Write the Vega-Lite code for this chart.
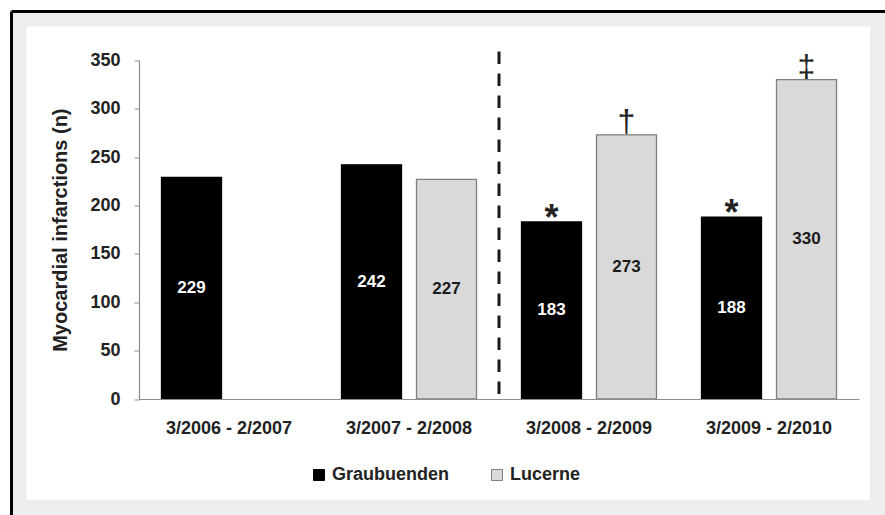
{
  "$schema": "https://vega.github.io/schema/vega-lite/v6.json",
  "width": 873.5,
  "height": 503.5,
  "autosize": {"type": "none"},
  "padding": {"left": 11.5, "top": 11.5, "right": 0, "bottom": 0},
  "background": "white",
  "config": {
    "font": "Liberation Sans",
    "view": {"stroke": null, "fill": "white"},
    "axis": {
      "grid": false,
      "domainColor": "#8c8c8c",
      "domainWidth": 1.2,
      "tickColor": "#8c8c8c",
      "labelFont": "Liberation Sans",
      "labelFontSize": 18,
      "labelFontWeight": "bold",
      "labelColor": "#222222",
      "titleFont": "Liberation Sans",
      "titleFontSize": 20,
      "titleFontWeight": "bold",
      "titleColor": "#222222"
    },
    "legend": {
      "labelFont": "Liberation Sans",
      "labelFontSize": 18,
      "labelFontWeight": "bold",
      "labelColor": "#222222"
    }
  },
  "datasets": {
    "counts": [
      {"period": "3/2006 - 2/2007", "series": "Graubuenden", "value": 229},
      {"period": "3/2007 - 2/2008", "series": "Graubuenden", "value": 242},
      {"period": "3/2007 - 2/2008", "series": "Lucerne", "value": 227},
      {"period": "3/2008 - 2/2009", "series": "Graubuenden", "value": 183, "sig": "*"},
      {"period": "3/2008 - 2/2009", "series": "Lucerne", "value": 273, "sig": "†"},
      {"period": "3/2009 - 2/2010", "series": "Graubuenden", "value": 188, "sig": "*"},
      {"period": "3/2009 - 2/2010", "series": "Lucerne", "value": 330, "sig": "‡"}
    ]
  },
  "layer": [
    {
      "data": {"values": [{"panel": "figure"}]},
      "mark": {"type": "rect", "fill": null, "stroke": "#eeeeee", "strokeWidth": 30, "clip": true},
      "encoding": {}
    },
    {
      "data": {"values": [{"panel": "figure"}]},
      "mark": {"type": "rect", "fill": null, "stroke": "#000000", "strokeWidth": 3, "strokeDash": [873.5, 1377, 503.5, 0]},
      "encoding": {}
    },
    {
      "layer": [
        {
          "data": {"name": "counts"},
          "mark": {"type": "bar", "strokeWidth": 1.3},
          "encoding": {
            "x": {
              "field": "period",
              "type": "nominal",
              "scale": {"range": [127.5, 847.5], "paddingInner": 0, "paddingOuter": 0},
              "axis": {"title": null, "offset": -116, "ticks": false, "tickSize": 0, "labelPadding": 20, "labelAngle": 0, "zindex": 1}
            },
            "xOffset": {
              "field": "series",
              "type": "nominal",
              "scale": {"domain": ["Graubuenden", "Lucerne"], "paddingInner": 0.2, "paddingOuter": 0.3}
            },
            "y": {
              "field": "value",
              "type": "quantitative",
              "scale": {"domain": [0, 350], "range": [387.5, 48.8], "nice": false},
              "axis": {
                "title": "Myocardial infarctions (n)",
                "offset": -127.5,
                "values": [0, 50, 100, 150, 200, 250, 300, 350],
                "tickSize": 5,
                "labelPadding": 14,
                "titlePadding": 19,
                "zindex": 1
              }
            },
            "fill": {
              "field": "series",
              "type": "nominal",
              "scale": {"domain": ["Graubuenden", "Lucerne"], "range": ["#000000", "#d9d9d9"]},
              "legend": {
                "orient": "none",
                "legendX": 298.5,
                "legendY": 454.5,
                "direction": "horizontal",
                "title": null,
                "symbolType": "square",
                "symbolSize": 121,
                "symbolStrokeColor": "#7f7f7f",
                "symbolStrokeWidth": 1,
                "columnPadding": 38,
                "labelOffset": 4,
                "padding": 0
              }
            },
            "stroke": {
              "field": "series",
              "type": "nominal",
              "scale": {"domain": ["Graubuenden", "Lucerne"], "range": ["#000000", "#7f7f7f"]},
              "legend": null
            }
          }
        },
        {
          "data": {"values": [{"period": "3/2008 - 2/2009"}]},
          "mark": {"type": "rule", "color": "#1a1a1a", "strokeWidth": 3, "strokeDash": [12.5, 9.5]},
          "encoding": {
            "x": {"field": "period", "type": "nominal", "bandPosition": 0},
            "y": {"datum": 359, "type": "quantitative"},
            "y2": {"datum": 0}
          }
        },
        {
          "data": {"name": "counts"},
          "transform": [{"filter": "datum.sig === '*'"}],
          "mark": {"type": "text", "fontSize": 36, "fontWeight": "bold", "baseline": "alphabetic", "dy": 8, "color": "#222222"},
          "encoding": {
            "x": {"field": "period", "type": "nominal"},
            "xOffset": {"field": "series", "type": "nominal"},
            "y": {"field": "value", "type": "quantitative"},
            "text": {"field": "sig"}
          }
        },
        {
          "data": {"name": "counts"},
          "transform": [{"filter": "datum.sig === '†' || datum.sig === '‡'"}],
          "mark": {"type": "text", "fontSize": 32, "baseline": "alphabetic", "dy": -3, "color": "#222222"},
          "encoding": {
            "x": {"field": "period", "type": "nominal"},
            "xOffset": {"field": "series", "type": "nominal"},
            "y": {"field": "value", "type": "quantitative"},
            "text": {"field": "sig"}
          }
        },
        {
          "data": {"name": "counts"},
          "mark": {"type": "text", "fontSize": 17, "fontWeight": "bold", "baseline": "middle"},
          "encoding": {
            "x": {"field": "period", "type": "nominal"},
            "xOffset": {"field": "series", "type": "nominal"},
            "y": {"field": "value", "type": "quantitative", "stack": "zero", "bandPosition": 0.5},
            "detail": {"field": "series", "type": "nominal"},
            "text": {"field": "value", "type": "quantitative"},
            "color": {
              "condition": {"test": "datum.series === 'Graubuenden'", "value": "#ffffff"},
              "value": "#1a1a1a"
            }
          }
        }
      ]
    }
  ],
  "resolve": {"scale": {"x": "independent", "y": "independent"}}
}
